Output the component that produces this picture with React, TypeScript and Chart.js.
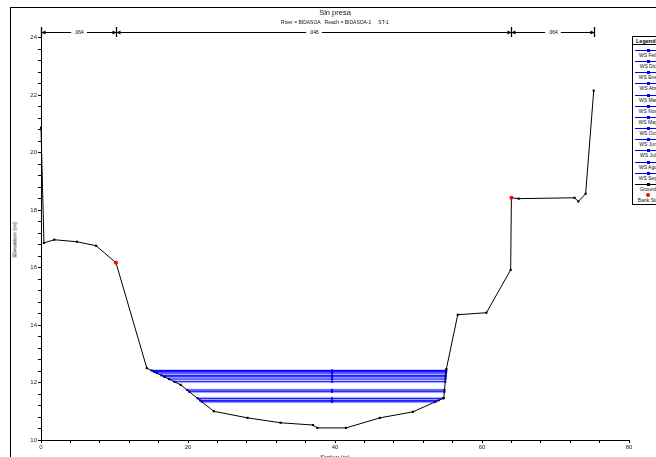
import React, { useEffect, useRef } from 'react';
import { Chart, registerables } from 'chart.js';

Chart.register(...registerables);

// ---- data ----
const groundStation = [0, 0.4, 1.8, 4.9, 7.5, 10.2, 14.4, 19.0, 23.5, 28.1, 32.6, 37.0, 37.6, 41.5, 46.1, 50.6, 54.8, 55.15, 56.7, 60.6, 63.9, 64.0, 65.0, 72.6, 73.1, 74.1, 75.2];
const groundElev = [20.87, 16.86, 16.97, 16.9, 16.76, 16.17, 12.5, 11.92, 11.0, 10.77, 10.6, 10.52, 10.42, 10.42, 10.77, 10.98, 11.46, 12.47, 14.36, 14.43, 15.92, 18.43, 18.4, 18.43, 18.3, 18.57, 22.16];
const bankStation = [10.2, 64.0];
const bankElev = [16.17, 18.43];
const profileNames = ['WS Feb', 'WS Dic', 'WS Ene', 'WS Abr', 'WS Mar', 'WS Nov', 'WS May', 'WS Oct', 'WS Jun', 'WS Jul', 'WS Ago', 'WS Sep'];
const profileElev = [12.42, 12.38, 12.33, 12.25, 12.2, 12.12, 12.03, 11.74, 11.68, 11.45, 11.38, 11.33];
const wsMarkerStation = 39.6;
const nStations = [0, 10.2, 64.0, 75.2];
const nValues = ['.064', '.046', '.064'];
const xMin = 0, xMax = 80, xMinorStep = 4, xLabelStep = 20;
const yMin = 10, yMax = 24.2, yMinorStep = 0.4, yLabelStep = 2;
const chartTitle = 'Sin presa';
const chartSubtitle = 'River = BIDASOA   Reach = BIDASOA-1     ST-1';
const xTitle = 'Station (m)';
const yTitle = 'Elevation (m)';

const FONT = '"Liberation Sans", Arial, sans-serif';

function waterEdges(level: number) {
  const minE = Math.min(...groundElev);
  const iMin = groundElev.indexOf(minE);
  let left = groundStation[0];
  for (let i = iMin; i > 0; i--) {
    if (groundElev[i - 1] >= level) {
      const t = (level - groundElev[i]) / (groundElev[i - 1] - groundElev[i]);
      left = groundStation[i] + t * (groundStation[i - 1] - groundStation[i]);
      break;
    }
  }
  let right = groundStation[groundStation.length - 1];
  for (let i = iMin; i < groundStation.length - 1; i++) {
    if (groundElev[i + 1] >= level) {
      const t = (level - groundElev[i]) / (groundElev[i + 1] - groundElev[i]);
      right = groundStation[i] + t * (groundStation[i + 1] - groundStation[i]);
      break;
    }
  }
  return [left, right];
}

const nBarPlugin = {
  id: 'nBar',
  afterDraw(chart: any) {
    const { ctx, chartArea, scales } = chart;
    const xs = scales.x;
    const y = chartArea.top;
    ctx.save();
    ctx.strokeStyle = '#000';
    ctx.fillStyle = '#000';
    ctx.lineWidth = 1;
    ctx.font = `5px ${FONT}`;
    ctx.textAlign = 'center';
    ctx.textBaseline = 'middle';
    const px = nStations.map((s) => Math.round(xs.getPixelForValue(s)) + 0.5);
    px.forEach((p) => {
      ctx.lineWidth = 1.3;
      ctx.beginPath();
      ctx.moveTo(p, y - 5);
      ctx.lineTo(p, y + 5);
      ctx.stroke();
    });
    ctx.lineWidth = 1;
    for (let i = 0; i < nValues.length; i++) {
      const a = px[i], b = px[i + 1];
      const mid = (a + b) / 2;
      const tw = ctx.measureText(nValues[i]).width + 6;
      ctx.beginPath();
      ctx.moveTo(a, y + 0.5);
      ctx.lineTo(mid - tw / 2, y + 0.5);
      ctx.moveTo(mid + tw / 2, y + 0.5);
      ctx.lineTo(b, y + 0.5);
      ctx.stroke();
      ctx.fillText(nValues[i], mid, y + 0.5);
      ctx.beginPath();
      ctx.moveTo(a, y + 0.5);
      ctx.lineTo(a + 4, y - 1.5);
      ctx.lineTo(a + 4, y + 2.5);
      ctx.closePath();
      ctx.fill();
      ctx.beginPath();
      ctx.moveTo(b, y + 0.5);
      ctx.lineTo(b - 4, y - 1.5);
      ctx.lineTo(b - 4, y + 2.5);
      ctx.closePath();
      ctx.fill();
    }
    ctx.restore();
  },
};

function isMultiple(v: number, step: number) {
  const r = v / step;
  return Math.abs(r - Math.round(r)) < 1e-6;
}

export default function App() {
  const ref = useRef<HTMLCanvasElement>(null);
  useEffect(() => {
    if (!ref.current) return;
    const datasets: any[] = [];
    datasets.push({
      label: 'Ground',
      data: groundStation.map((x, i) => ({ x, y: groundElev[i] })),
      showLine: true,
      borderColor: '#000',
      backgroundColor: '#000',
      borderWidth: 1,
      pointStyle: 'rect',
      pointRadius: 1.5,
      pointBorderWidth: 0,
      clip: 6,
      order: 0,
    });
    datasets.push({
      label: 'Bank Sta',
      data: bankStation.map((x, i) => ({ x, y: bankElev[i] })),
      showLine: false,
      borderColor: '#ff0000',
      backgroundColor: '#ff0000',
      pointStyle: 'circle',
      pointRadius: 2,
      pointBorderWidth: 0,
      order: -1,
    });
    profileElev.forEach((lvl, i) => {
      const [l, r] = waterEdges(lvl);
      const pts = [{ x: l, y: lvl }, { x: wsMarkerStation, y: lvl }, { x: r, y: lvl }];
      datasets.push({
        label: profileNames[i],
        data: pts,
        showLine: true,
        borderColor: '#0000ff',
        backgroundColor: '#0000ff',
        borderWidth: 1,
        pointStyle: 'rect',
        pointRadius: 1.5,
        pointBorderWidth: 0,
        order: 1,
      });
      datasets.push({
        label: profileNames[i] + ' band',
        data: pts,
        showLine: true,
        borderColor: 'rgba(120,120,255,0.32)',
        borderWidth: 3,
        pointRadius: 0,
        order: 2,
      });
    });

    const chart = new Chart(ref.current, {
      type: 'scatter',
      data: { datasets },
      plugins: [nBarPlugin],
      options: {
        animation: false,
        responsive: false,
        events: [],
        layout: { padding: { left: 0, top: 32, right: 27, bottom: 0 } },
        plugins: { legend: { display: false }, tooltip: { enabled: false }, title: { display: false } },
        scales: {
          x: {
            type: 'linear',
            min: xMin,
            max: xMax,
            afterFit: (s: any) => { s.height = 17; },
            border: { display: true, color: '#000', width: 1 },
            grid: { display: true, drawOnChartArea: false, drawTicks: true, tickLength: 3, color: '#000' },
            ticks: {
              stepSize: xMinorStep,
              includeBounds: false,
              autoSkip: false,
              maxRotation: 0,
              padding: 1,
              color: '#222',
              font: { family: FONT, size: 6 },
              callback: (v: any) => (isMultiple(Number(v), xLabelStep) ? String(Math.round(Number(v))) : ''),
            },
          },
          y: {
            type: 'linear',
            min: yMin,
            max: yMax,
            afterFit: (s: any) => { s.width = 41; },
            border: { display: true, color: '#000', width: 1 },
            grid: { display: true, drawOnChartArea: false, drawTicks: true, tickLength: 3, color: '#000' },
            ticks: {
              stepSize: yMinorStep,
              includeBounds: false,
              autoSkip: false,
              padding: 1,
              color: '#222',
              font: { family: FONT, size: 6 },
              callback: (v: any) => (isMultiple(Number(v), yLabelStep) ? String(Math.round(Number(v))) : ''),
            },
          },
        },
      },
    });
    return () => chart.destroy();
  }, []);

  const legendItems = [
    ...profileNames.map((n) => ({ name: n, kind: 'ws' })),
    { name: 'Ground', kind: 'ground' },
    { name: 'Bank Sta', kind: 'bank' },
  ];
  const legLeft = 632;
  const legTop = 36;
  const rowH = 11.15;

  return (
    <div style={{ position: 'fixed', left: 0, top: 0, width: 656, height: 457, overflow: 'hidden', background: '#fff', fontFamily: FONT }}>
      <div style={{ position: 'absolute', left: 10, top: 7, width: 700, height: 500, borderTop: '1px solid #000', borderLeft: '1px solid #000' }} />
      <canvas ref={ref} width={656} height={457} style={{ position: 'absolute', left: 0, top: 0, display: 'block' }} />
      <div style={{ position: 'absolute', left: 235, width: 200, top: 9, textAlign: 'center', fontSize: 7.5, lineHeight: '8px', color: '#111' }}>{chartTitle}</div>
      <div style={{ position: 'absolute', left: 185, width: 300, top: 19, textAlign: 'center', fontSize: 5, lineHeight: '6px', color: '#111', whiteSpace: 'pre' }}>{chartSubtitle}</div>
      <div style={{ position: 'absolute', left: 300, width: 70, top: 454, textAlign: 'center', fontSize: 6, lineHeight: '7px', color: '#222' }}>{xTitle}</div>
      <div style={{ position: 'absolute', left: 15, top: 240, width: 0, height: 0 }}>
        <div style={{ position: 'absolute', left: -40, top: -4, width: 80, textAlign: 'center', fontSize: 6, lineHeight: '7px', color: '#222', transform: 'rotate(-90deg)' }}>{yTitle}</div>
      </div>
      <div style={{ position: 'absolute', left: legLeft, top: legTop, width: 44, height: 167, border: '1px solid #000', background: '#fff' }}>
        <div style={{ position: 'absolute', left: 0, top: 0, width: 44, height: 8, borderBottom: '1px solid #000', fontSize: 5.5, lineHeight: '8px', fontWeight: 'bold', paddingLeft: 3, boxSizing: 'border-box', color: '#000' }}>Legend</div>
        {legendItems.map((it, i) => {
          const ly = 13 + i * rowH;
          const color = it.kind === 'ws' ? '#0000ff' : it.kind === 'ground' ? '#000' : '#ff0000';
          return (
            <React.Fragment key={it.name}>
              {it.kind !== 'bank' && (
                <div style={{ position: 'absolute', left: 2, top: ly, width: 40, height: 1, background: color }} />
              )}
              <div style={{ position: 'absolute', left: it.kind === 'bank' ? 13 : 13.5, top: ly - (it.kind === 'bank' ? 1.5 : 1), width: it.kind === 'bank' ? 4 : 3, height: it.kind === 'bank' ? 4 : 3, borderRadius: it.kind === 'bank' ? 2 : 0, background: color }} />
              <div style={{ position: 'absolute', left: 0, top: ly + 2, width: 30, textAlign: 'center', fontSize: 5, lineHeight: '6px', color: '#111', whiteSpace: 'nowrap' }}>{it.name}</div>
            </React.Fragment>
          );
        })}
      </div>
    </div>
  );
}
